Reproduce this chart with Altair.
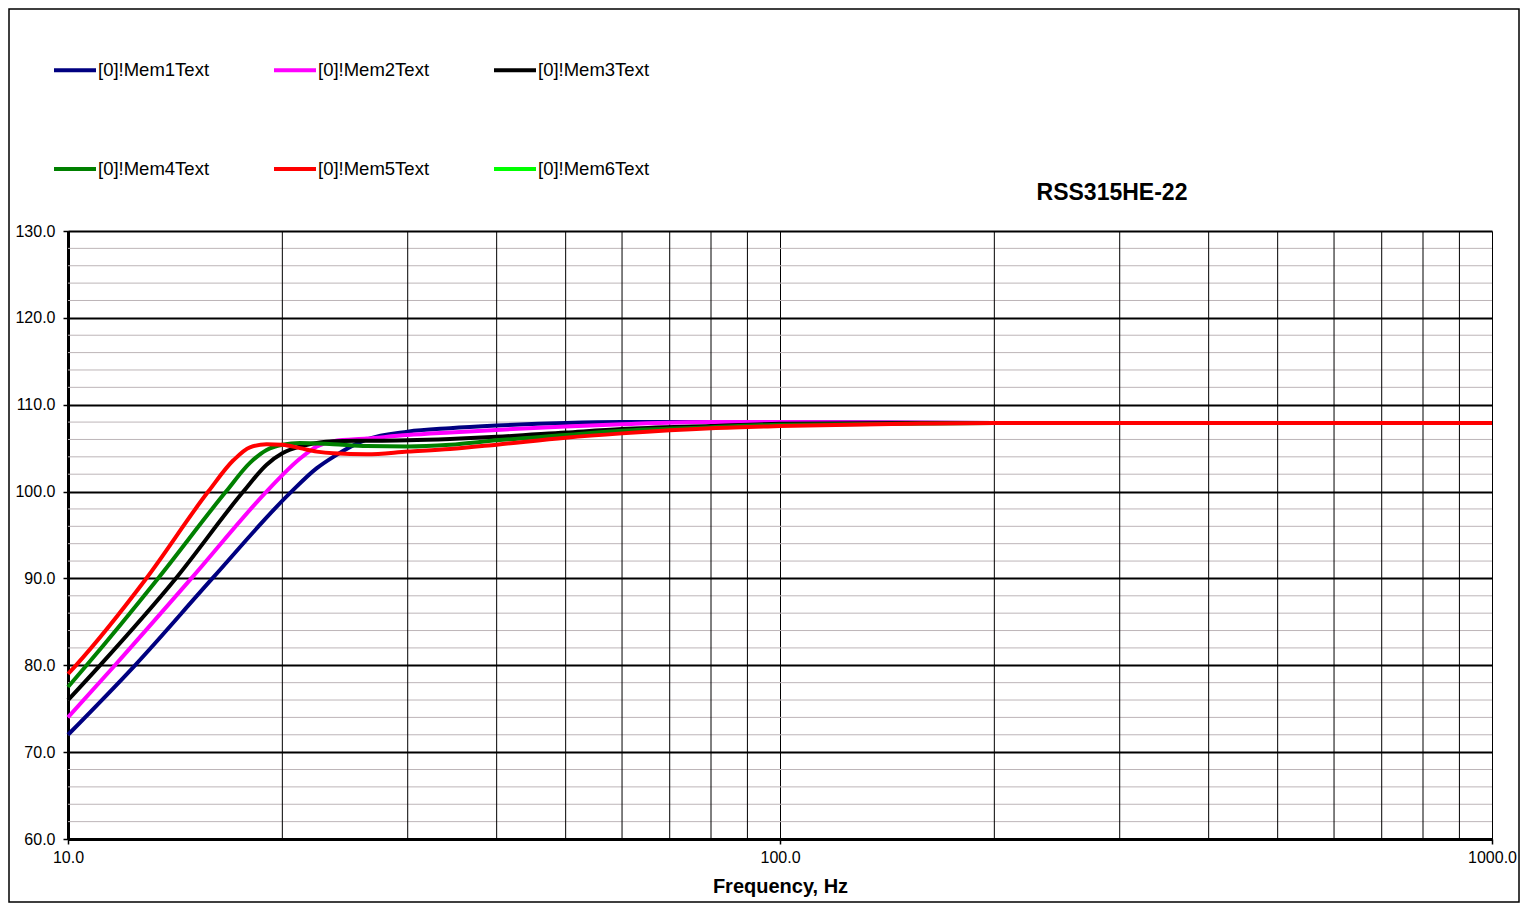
import altair as alt
import pandas as pd

# ---------------- data ----------------
names = ["[0]!Mem1Text", "[0]!Mem2Text", "[0]!Mem3Text",
         "[0]!Mem4Text", "[0]!Mem5Text", "[0]!Mem6Text"]
colors = ["#000080", "#FF00FF", "#000000", "#008000", "#FF0000", "#00FF00"]

freq_mem1 = [10, 12.42, 15.95, 20.6, 22.36, 23.59, 26.28, 30, 34.4, 40, 50, 60, 80, 100, 200, 1000]
spl_mem1 = [72.0, 80.0, 90.0, 100.0, 102.7, 104.0, 106.0, 106.9, 107.3, 107.6, 107.9, 108.0, 108.0, 108.0, 107.9, 107.9]

freq_mem2 = [10, 11.64, 14.9, 19.0, 20, 21.18, 22.36, 23.59, 26.28, 30, 34.4, 40, 50, 60, 80, 100, 200, 1000]
spl_mem2 = [74.0, 80.0, 90.0, 100.0, 101.9, 103.8, 105.2, 105.8, 106.1, 106.5, 106.8, 107.1, 107.5, 107.75, 108.0, 108.0, 107.9, 107.9]

freq_mem3 = [10, 11.09, 14.17, 17.63, 19.01, 20, 21.18, 22.36, 23.59, 26.28, 30, 34.4, 40, 50, 60, 80, 100, 150, 200, 1000]
spl_mem3 = [76.0, 80.0, 90.0, 100.0, 103.1, 104.4, 105.2, 105.6, 105.8, 105.85, 105.9, 106.05, 106.3, 106.8, 107.2, 107.55, 107.8, 107.9, 107.9, 107.9]

freq_mem4 = [10, 10.62, 13.38, 16.67, 18.01, 19.01, 20, 21.18, 23.59, 26.28, 30, 34.4, 40, 50, 60, 80, 100, 200, 1000]
spl_mem4 = [77.5, 80.0, 90.0, 100.0, 103.3, 104.8, 105.4, 105.6, 105.45, 105.25, 105.2, 105.4, 105.9, 106.5, 107.0, 107.4, 107.7, 107.9, 107.9]

freq_mem5 = [10, 10.26, 12.88, 15.74, 17.07, 18.01, 19.01, 20, 21.18, 22.36, 23.59, 26.28, 30, 34.4, 40, 50, 60, 80, 100, 150, 200, 1000]
spl_mem5 = [79.0, 80.0, 90.0, 100.0, 103.6, 105.1, 105.45, 105.4, 105.0, 104.6, 104.4, 104.3, 104.6, 104.9, 105.4, 106.2, 106.7, 107.3, 107.55, 107.8, 107.9, 107.9]

major_y = [60, 70, 80, 90, 100, 110, 120, 130]
minor_y = [62, 64, 66, 68, 72, 74, 76, 78, 82, 84, 86, 88, 92, 94, 96, 98,
           102, 104, 106, 108, 112, 114, 116, 118, 122, 124, 126, 128]
major_x = [10, 100, 1000]
minor_x = [20, 30, 40, 50, 60, 70, 80, 90, 200, 300, 400, 500, 600, 700, 800, 900]

title_text = "RSS315HE-22"
x_title = "Frequency, Hz"

# ---------------- build table ----------------
rows = []
series = [(freq_mem1, spl_mem1), (freq_mem2, spl_mem2), (freq_mem3, spl_mem3),
          (freq_mem4, spl_mem4), (freq_mem5, spl_mem5)]
for name, (fs, ss) in zip(names, series):
    for f, s in zip(fs, ss):
        rows.append({"series": name, "freq": f, "spl": s})
df = pd.DataFrame(rows)

FONT = "Liberation Sans"
W, H = 1424, 608
PAD = {"left": 60, "top": 223, "right": 28, "bottom": 64}

x_scale = alt.Scale(type="log", domain=[10, 1000], nice=False)
y_scale = alt.Scale(domain=[60, 130], nice=False, zero=False)

grid_y = alt.Chart(pd.DataFrame({"v": minor_y})).mark_rule(
    color="#bdb5b8", strokeWidth=1
).encode(y=alt.Y("v:Q", scale=y_scale, axis=None))

grid_x = alt.Chart(pd.DataFrame({"v": minor_x})).mark_rule(
    color="black", strokeWidth=1
).encode(x=alt.X("v:Q", scale=x_scale, axis=None))

lines = alt.Chart(df).mark_line(strokeWidth=4, interpolate="monotone").encode(
    x=alt.X("freq:Q", scale=x_scale,
            axis=alt.Axis(values=major_x, format=".1f", title=x_title,
                          grid=True, gridColor="black", gridWidth=1,
                          domainColor="black", domainWidth=3,
                          tickColor="black", tickSize=5, tickWidth=1.5,
                          labelFont=FONT, labelFontSize=16, labelColor="black",
                          labelPadding=5, labelFlush=False,
                          titleFont=FONT, titleFontSize=20, titleFontWeight="bold",
                          titleColor="black", titlePadding=11)),
    y=alt.Y("spl:Q", scale=y_scale,
            axis=alt.Axis(values=major_y, format=".1f", title=None,
                          grid=True, gridColor="black", gridWidth=2,
                          domainColor="black", domainWidth=3,
                          tickColor="black", tickSize=5, tickWidth=1.5,
                          labelFont=FONT, labelFontSize=16, labelColor="black",
                          labelPadding=8, labelFlush=False)),
    color=alt.Color("series:N",
                    scale=alt.Scale(domain=names, range=colors),
                    legend=alt.Legend(title=None, orient="none",
                                      legendX=-16, legendY=-184,
                                      columns=3, direction="horizontal",
                                      symbolType="stroke", symbolSize=1764,
                                      symbolStrokeWidth=4, labelOffset=0,
                                      labelFont=FONT, labelFontSize=18.5,
                                      labelColor="black", labelLimit=0,
                                      columnPadding=56, rowPadding=66,
                                      padding=0)),
)

frame = alt.Chart(pd.DataFrame({"a": [0]})).mark_rect(
    fill=None, stroke="black", strokeWidth=1.5
).encode(
    x=alt.value(-PAD["left"] + 1), y=alt.value(-PAD["top"] + 1),
    x2=alt.value(W + PAD["right"] - 1), y2=alt.value(H + PAD["bottom"] - 1),
)

chart = alt.layer(grid_y, grid_x, lines, frame).resolve_axis(
    x="independent", y="independent"
).properties(
    width=W, height=H,
    title=alt.TitleParams(title_text, font=FONT, fontSize=23, fontWeight="bold",
                          color="black", anchor="middle", dx=332, offset=0,
                          dy=215, baseline="alphabetic", frame="group"),
    autosize=alt.AutoSizeParams(type="none"),
    padding=PAD,
).configure_view(stroke="black", strokeWidth=2).configure(background="white")

chart.save("out.html", embed_options={"renderer": "svg", "actions": False})
